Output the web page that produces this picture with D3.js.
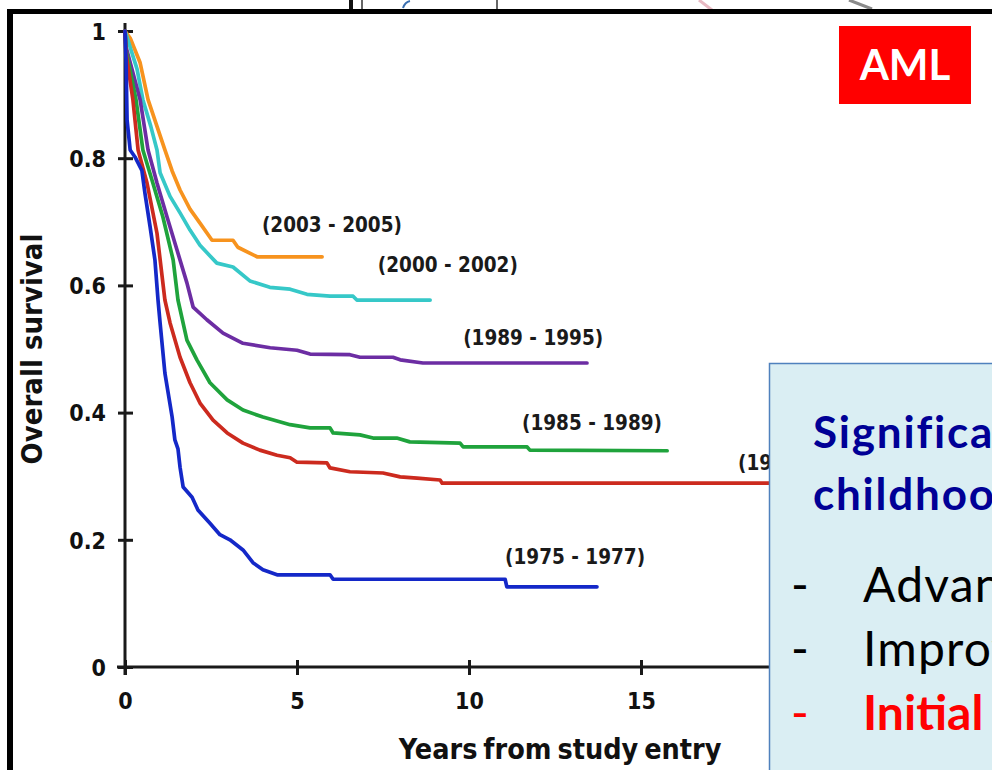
<!DOCTYPE html>
<html>
<head>
<meta charset="utf-8">
<script src="https://cdn.jsdelivr.net/npm/d3@7"></script>
<style>
  body { margin: 0; background: #fff; }
  svg { display: block; }
  .chartfont { font-family: "DejaVu Sans Condensed", "DejaVu Sans", sans-serif; font-stretch: condensed; font-weight: bold; }
  .slidefont { font-family: Lato, "Open Sans", sans-serif; }
</style>
</head>
<body>
<svg id="c" width="992" height="770"></svg>
<script>
// ---------------- DATA ----------------
const cohorts = ["(2003 - 2005)", "(2000 - 2002)", "(1989 - 1995)", "(1985 - 1989)", "(1979 - 1983)", "(1975 - 1977)"];

// [years from study entry, overall survival]
const surv2003 = [[0,1],[0.15,0.989],[0.44,0.95],[0.67,0.892],[0.93,0.85],[1.16,0.813],[1.37,0.78],[1.6,0.75],[1.89,0.72],[2.18,0.698],[2.53,0.671],[3.14,0.671],[3.28,0.66],[3.84,0.645],[5.73,0.645]];
const surv2000 = [[0,1],[0.06,0.99],[0.35,0.94],[0.52,0.892],[0.75,0.85],[0.93,0.813],[1.02,0.777],[1.31,0.74],[1.6,0.714],[1.89,0.687],[2.18,0.663],[2.67,0.635],[3.14,0.629],[3.63,0.607],[4.21,0.597],[4.8,0.594],[5.29,0.586],[5.96,0.583],[6.63,0.583],[6.74,0.577],[8.87,0.577]];
const surv1989 = [[0,1],[0.03,0.975],[0.44,0.892],[0.67,0.813],[0.93,0.761],[1.22,0.708],[1.51,0.656],[1.8,0.604],[1.98,0.566],[2.38,0.546],[2.85,0.525],[3.43,0.509],[4.22,0.502],[5.0,0.498],[5.38,0.492],[6.54,0.491],[6.83,0.487],[7.79,0.487],[8.0,0.483],[8.66,0.478],[13.43,0.478]];
const surv1985 = [[0,1],[0.03,0.97],[0.32,0.892],[0.52,0.813],[0.81,0.761],[1.1,0.708],[1.4,0.64],[1.54,0.577],[1.8,0.514],[2.09,0.483],[2.47,0.447],[2.97,0.42],[3.43,0.404],[4.01,0.393],[4.8,0.381],[5.38,0.376],[5.96,0.376],[6.05,0.368],[6.83,0.365],[7.21,0.36],[7.9,0.36],[8.28,0.354],[9.74,0.352],[9.83,0.346],[11.69,0.346],[11.77,0.341],[15.76,0.34]];
const surv1979 = [[0,1],[0.03,0.965],[0.23,0.892],[0.38,0.813],[0.64,0.761],[0.93,0.682],[1.16,0.577],[1.31,0.541],[1.6,0.487],[1.89,0.447],[2.18,0.415],[2.56,0.388],[2.97,0.368],[3.43,0.352],[3.92,0.341],[4.42,0.333],[4.8,0.329],[5.0,0.322],[5.87,0.321],[5.96,0.313],[6.54,0.307],[7.5,0.305],[8.0,0.299],[8.49,0.297],[9.16,0.294],[9.22,0.289],[22,0.289]];
const surv1975 = [[0,1],[0.03,0.954],[0.06,0.86],[0.15,0.813],[0.29,0.802],[0.49,0.781],[0.58,0.745],[0.73,0.692],[0.87,0.64],[0.96,0.577],[1.02,0.541],[1.16,0.462],[1.37,0.393],[1.45,0.357],[1.54,0.343],[1.6,0.314],[1.69,0.283],[1.95,0.267],[2.12,0.247],[2.47,0.226],[2.76,0.208],[3.05,0.2],[3.43,0.184],[3.72,0.164],[4.01,0.153],[4.42,0.145],[5.96,0.145],[6.05,0.138],[11.05,0.138],[11.1,0.126],[13.72,0.126]];

// label anchors in data units [years, survival]
const labelAnchors = [[3.98,0.684],[7.35,0.621],[9.83,0.506],[11.54,0.373],[17.82,0.31],[11.05,0.162]];

const xTicks = [0, 5, 10, 15, 20];
const xTickLabels = ["0", "5", "10", "15", "20"];
const yTicks = [0, 0.2, 0.4, 0.6, 0.8, 1];
const yTickLabels = ["0", "0.2", "0.4", "0.6", "0.8", "1"];

const xTitle = "Years from study entry";
const yTitle = "Overall survival";
const badge = "AML";
const boxTitle = ["Significant improvement in", "childhood AML survival"];
const boxBullets = ["Advances in chemotherapy", "Improved supportive care", "Initial response"];

// ---------------- STYLE ----------------
const series = [surv2003, surv2000, surv1989, surv1985, surv1979, surv1975];
const colors = ["#F7931E", "#36C8C8", "#6C2DA3", "#1FA33C", "#CC2A1E", "#1428C8"];

const svg = d3.select("#c");
const x = d3.scaleLinear().domain([0, 25]).range([125, 985]);
const y = d3.scaleLinear().domain([0, 1]).range([667, 31]);

// fragments above the frame
const frag = svg.append("g");
frag.append("line").attr("x1", 351).attr("x2", 351).attr("y1", 0).attr("y2", 10).attr("stroke", "#111").attr("stroke-width", 4);
frag.append("line").attr("x1", 362).attr("x2", 362).attr("y1", 0).attr("y2", 10).attr("stroke", "#333").attr("stroke-width", 1.5);
frag.append("line").attr("x1", 497).attr("x2", 497).attr("y1", 0).attr("y2", 10).attr("stroke", "#333").attr("stroke-width", 1.5);
frag.append("path").attr("d", "M403,8 Q405,2 410,1").attr("fill", "none").attr("stroke", "#3a6fb0").attr("stroke-width", 2);
frag.append("line").attr("x1", 699).attr("y1", 0).attr("x2", 712).attr("y2", 10).attr("stroke", "#e8b9c2").attr("stroke-width", 3);
frag.append("line").attr("x1", 849).attr("y1", 0).attr("x2", 872).attr("y2", 9).attr("stroke", "#8a8a8a").attr("stroke-width", 3);

// frame
svg.append("rect").attr("x", 7).attr("y", 9).attr("width", 990).attr("height", 5).attr("fill", "#000");
svg.append("rect").attr("x", 7).attr("y", 9).attr("width", 6).attr("height", 770).attr("fill", "#000");

// axes
const axisColor = "#1a1a1a";
const gy = svg.append("g").attr("transform", `translate(${x(0)},0)`);
gy.call(d3.axisLeft(y).tickValues(yTicks).tickFormat((d, i) => yTickLabels[i]).tickSizeInner(7).tickSizeOuter(0).tickPadding(12));
gy.append("g").call(d3.axisRight(y).tickValues(yTicks).tickFormat("").tickSizeInner(8).tickSizeOuter(0));
gy.selectAll(".domain").remove();
gy.selectAll("line").attr("stroke", axisColor).attr("stroke-width", 3);
gy.selectAll("text").attr("class", "chartfont").attr("font-size", 23).attr("fill", "#111").attr("dy", "0.36em");
gy.append("line").attr("x1", 0).attr("x2", 0).attr("y1", y(1) - 8).attr("y2", y(0) + 8).attr("stroke", axisColor).attr("stroke-width", 3);

const gx = svg.append("g").attr("transform", `translate(0,${y(0)})`);
gx.call(d3.axisBottom(x).tickValues(xTicks).tickFormat((d, i) => xTickLabels[i]).tickSizeInner(8).tickSizeOuter(0).tickPadding(18));
gx.append("g").call(d3.axisTop(x).tickValues(xTicks).tickFormat("").tickSizeInner(7).tickSizeOuter(0));
gx.selectAll(".domain").remove();
gx.selectAll("line").attr("stroke", axisColor).attr("stroke-width", 3);
gx.selectAll("text").attr("class", "chartfont").attr("font-size", 23).attr("fill", "#111");
gx.append("line").attr("x1", x(0) - 8).attr("x2", x(25)).attr("y1", 0).attr("y2", 0).attr("stroke", axisColor).attr("stroke-width", 3);

// axis titles
svg.append("text").attr("class", "chartfont").attr("x", x(12.65)).attr("y", 759).attr("text-anchor", "middle")
  .attr("font-size", 28.5).attr("fill", "#111").attr("word-spacing", -3).text(xTitle);
svg.append("text").attr("class", "chartfont").attr("transform", `translate(42,${y(0.5)}) rotate(-90)`)
  .attr("text-anchor", "middle").attr("font-size", 29).attr("fill", "#111").text(yTitle);

// curves
const line = d3.line().x(d => x(d[0])).y(d => y(d[1])).curve(d3.curveLinear);
svg.append("g").selectAll("path").data(series).join("path")
  .attr("d", line).attr("fill", "none")
  .attr("stroke", (d, i) => colors[i]).attr("stroke-width", 3.7)
  .attr("stroke-linejoin", "round").attr("stroke-linecap", "round");

// cohort labels
svg.append("g").selectAll("text").data(cohorts).join("text")
  .attr("class", "chartfont").attr("font-size", 20.5).attr("fill", "#1a1a1a")
  .attr("x", (d, i) => x(labelAnchors[i][0])).attr("y", (d, i) => y(labelAnchors[i][1]))
  .text(d => d);

// AML badge
svg.append("rect").attr("x", 839).attr("y", 26).attr("width", 132).attr("height", 78).attr("fill", "#FF0000");
svg.append("text").attr("class", "slidefont").attr("x", 905).attr("y", 80).attr("text-anchor", "middle")
  .attr("font-size", 42).attr("font-weight", "bold").attr("fill", "#fff").text(badge);

// text box
const box = svg.append("g");
box.append("rect").attr("x", 769.5).attr("y", 363.5).attr("width", 260).attr("height", 430)
  .attr("fill", "#DAEEF3").attr("stroke", "#4F81BD").attr("stroke-width", 1.5);
box.selectAll("text.t").data(boxTitle).join("text").attr("class", "slidefont t")
  .attr("x", 813).attr("y", (d, i) => 448 + i * 62).attr("letter-spacing", 1.8)
  .attr("font-size", 44).attr("font-weight", "bold").attr("fill", "#000096").text(d => d);
const bul = box.selectAll("g.b").data(boxBullets).join("g").attr("class", "b");
bul.append("text").attr("class", "slidefont").attr("x", 791).attr("y", (d, i) => 602 + i * 64)
  .attr("font-size", 48).attr("fill", (d, i) => i === 2 ? "#FF0000" : "#000").text("-");
bul.append("text").attr("class", "slidefont").attr("x", 863).attr("y", (d, i) => 602 + i * 64)
  .attr("font-size", 48).attr("letter-spacing", (d, i) => i === 2 ? 0 : 1.2).attr("font-weight", (d, i) => i === 2 ? "bold" : "normal")
  .attr("fill", (d, i) => i === 2 ? "#FF0000" : "#000").text(d => d);
</script>
</body>
</html>
